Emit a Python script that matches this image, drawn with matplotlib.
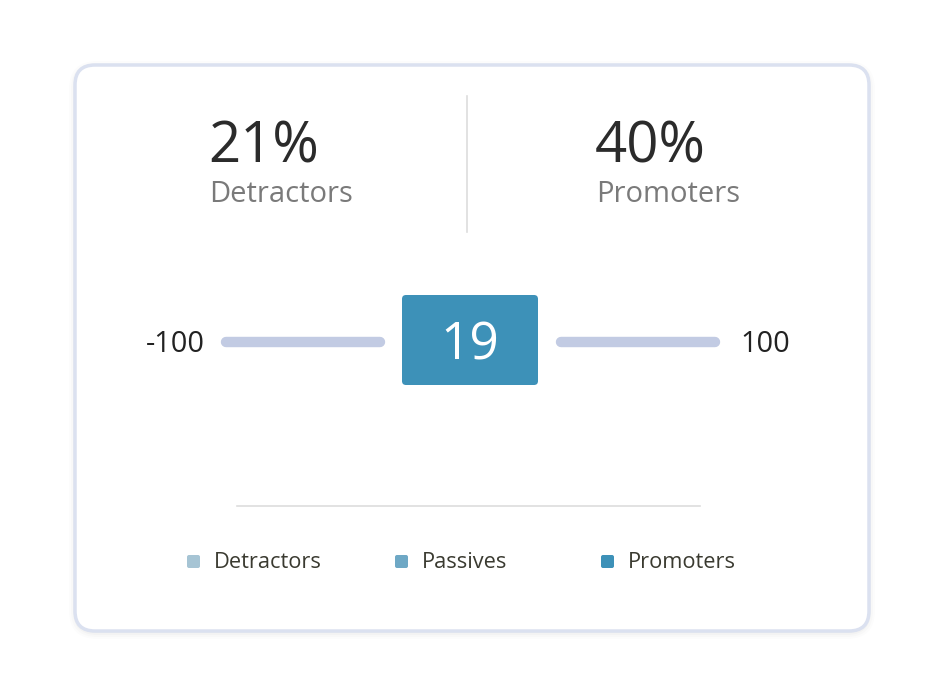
import matplotlib
matplotlib.use("Agg")
import matplotlib.pyplot as plt
from matplotlib.patches import FancyBboxPatch

plt.rcParams['font.family'] = ['Open Sans', 'DejaVu Sans']

# data
stat_values = [21, 40]
stat_labels = ["Detractors", "Promoters"]
nps_score = 19
gauge_min, gauge_max = -100, 100
legend_labels = ["Detractors", "Passives", "Promoters"]
legend_colors = ["#a6c4d4", "#6ea8c5", "#3d91b8"]

W, H = 944, 688
fig = plt.figure(figsize=(W / 100, H / 100), dpi=100)
ax = fig.add_axes([0, 0, 1, 1])
ax.set_xlim(0, W)
ax.set_ylim(H, 0)
ax.axis("off")

# shadow
for i, a in enumerate([0.025, 0.02, 0.015, 0.01]):
    d = 2 + i * 2
    ax.add_patch(FancyBboxPatch((75 - d + 2, 65 - d + 4), 794 + 2 * d - 4, 566 + 2 * d - 4,
                                boxstyle="round,pad=0,rounding_size=%d" % (20 + d),
                                fc="black", ec="none", alpha=a, zorder=0))
# card
ax.add_patch(FancyBboxPatch((75, 65), 794, 566, boxstyle="round,pad=0,rounding_size=20",
                            fc="white", ec="#dbe1f0", lw=2.5, zorder=1))

# top stats
stat_x = [210, 597]
for x, v, lab in zip(stat_x, stat_values, stat_labels):
    ax.text(x - 2, 148, f"{v}%", fontsize=40.5, color="#2b2b2b", ha="left", va="center", zorder=3)
    ax.text(x - 1, 195, lab, fontsize=21, color="#7a7a7a", ha="left", va="center", zorder=3)

# divider
ax.plot([467, 467], [96, 232], color="#dddddd", lw=1.2, zorder=2)

# gauge
ax.plot([226, 380], [342, 342], color="#c2cbe3", lw=7.5, solid_capstyle="round", zorder=2)
ax.plot([561, 715], [342, 342], color="#c2cbe3", lw=7.5, solid_capstyle="round", zorder=2)
ax.text(205, 345, f"{gauge_min}", fontsize=20.8, color="#222222", ha="right", va="center", zorder=3)
ax.text(740, 345, f"{gauge_max}", fontsize=20.8, color="#222222", ha="left", va="center", zorder=3)

ax.add_patch(FancyBboxPatch((402, 295), 136, 90, boxstyle="round,pad=0,rounding_size=4",
                            fc="#3d91b8", ec="none", zorder=3))
ax.text(470, 346, f"{nps_score}", fontsize=37, color="white", ha="center", va="center", zorder=4)

# separator
ax.plot([237, 700], [506, 506], color="#dddddd", lw=1.2, zorder=2)

# legend
leg_x = [187, 395, 601]
for x, lab, c in zip(leg_x, legend_labels, legend_colors):
    ax.add_patch(FancyBboxPatch((x, 555), 13, 13, boxstyle="round,pad=0,rounding_size=2",
                                fc=c, ec="none", zorder=3))
    ax.text(x + 27, 563, lab, fontsize=15.7, color="#3a3a30", ha="left", va="center", zorder=3)

fig.savefig("out.png", dpi=100, facecolor="white")
